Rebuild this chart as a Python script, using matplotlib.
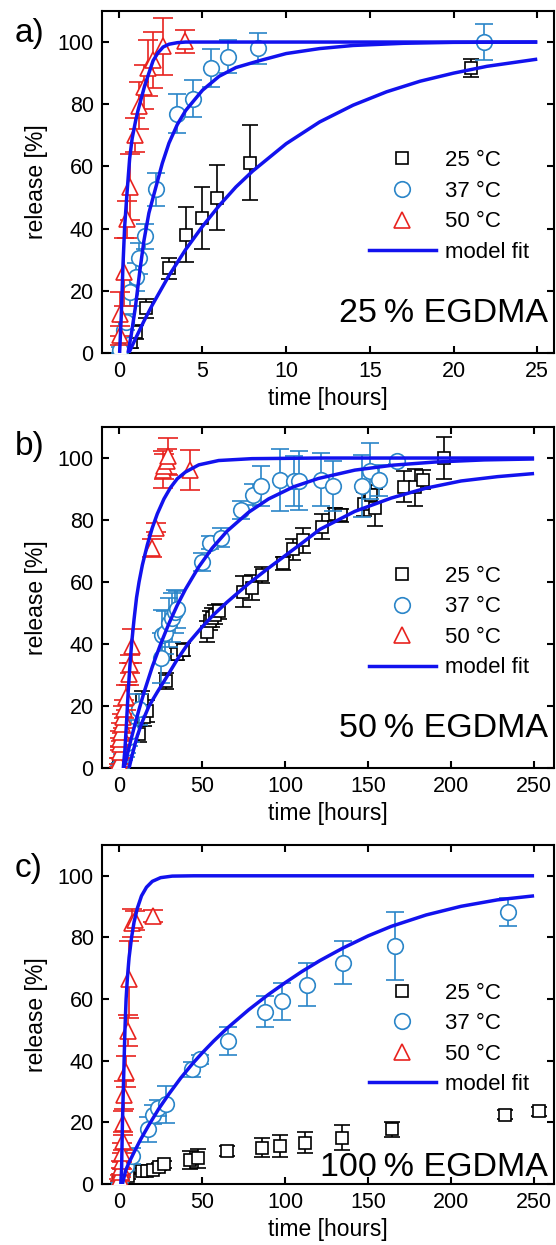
import matplotlib
matplotlib.use("Agg")
import matplotlib.pyplot as plt
from matplotlib.lines import Line2D

plt.rcParams['font.family'] = ['Liberation Sans', 'DejaVu Sans']

# === colours ===
c25 = 'black'
c37 = '#2a85c8'
c50 = '#e8231f'
cfit = '#1212ee'

# ==========================================
# a) 25 % EGDMA  (time in hours)
# ==========================================
a_t25 = [0.75, 1.0, 1.65, 3.0, 4.0, 4.95, 5.85, 7.85, 21.05]
a_y25 = [3.5, 6.8, 14.3, 27.2, 38.1, 43.3, 50.0, 61.2, 91.6]
a_e25 = [2.0, 2.3, 3.2, 3.5, 9.0, 10.0, 10.6, 12.0, 2.9]

a_t37 = [0.1, 0.3, 0.45, 0.65, 1.0, 1.2, 1.55, 2.2, 3.45, 4.45, 5.5, 6.5, 8.3, 21.8]
a_y37 = [1.0, 7.5, 10.0, 19.5, 24.3, 30.5, 37.5, 52.6, 77.0, 81.8, 91.7, 95.3, 98.0, 100.0]
a_e37 = [1.0, 2.5, 2.5, 4.5, 4.5, 5.0, 4.0, 5.3, 6.3, 6.0, 6.0, 5.3, 5.0, 5.7]

a_t50 = [0.05, 0.1, 0.34, 0.5, 0.69, 0.99, 1.23, 1.53, 1.73, 2.02, 2.62, 3.97]
a_y50 = [5.7, 12.5, 26.0, 43.0, 53.5, 70.0, 79.5, 85.5, 91.6, 94.3, 98.6, 100.2]
a_e50 = [3.0, 7.0, 11.0, 6.0, 10.6, 5.5, 7.5, 7.0, 9.0, 9.0, 9.2, 3.8]

a_fit25_t = [0.6, 1.0, 1.5, 2.0, 3.0, 4.0, 5.0, 6.0, 7.0, 8.0, 10.0, 12.0, 14.0, 16.0, 18.0, 20.0, 22.0, 25.0]
a_fit25_y = [0.0, 4.6, 10.2, 15.4, 24.9, 33.3, 40.7, 47.4, 53.4, 58.5, 67.3, 74.3, 79.7, 84.0, 87.4, 90.0, 92.2, 94.5]
a_fit37_t = [0.55, 0.75, 1.0, 1.25, 1.5, 1.8, 2.2, 2.6, 3.0, 3.5, 4.0, 5.0, 6.0, 7.0, 8.4, 10.0, 12.0, 14.0, 17.0, 20.0, 25.0]
a_fit37_y = [0.0, 6.0, 15.0, 26.0, 36.0, 45.0, 53.0, 61.0, 67.5, 73.5, 78.0, 84.5, 89.0, 91.8, 94.0, 96.3, 97.9, 98.9, 99.6, 99.9, 100.0]
a_fit50_t = [0.05, 0.15, 0.25, 0.35, 0.5, 0.65, 0.8, 1.0, 1.15, 1.35, 1.55, 1.8, 2.05, 2.35, 2.65, 3.0, 3.5, 4.0, 5.0, 25.0]
a_fit50_y = [0.0, 12.0, 28.0, 40.5, 52.0, 62.5, 69.0, 74.5, 78.0, 82.0, 86.0, 90.0, 94.0, 96.6, 98.4, 99.3, 99.8, 100.0, 100.0, 100.0]

# ==========================================
# b) 50 % EGDMA
# ==========================================
b_t25 = [0, 1, 2, 3, 12, 14, 15, 17, 28, 35, 38.5, 53, 54.5, 56, 58, 60, 74.5, 80, 86, 98.5,
         105, 110.5, 122, 130, 133.5, 147.5, 151.5, 154, 171.5, 178.5, 183, 196]
b_y25 = [0.5, 1.5, 2.5, 3.5, 11.0, 22.0, 16.5, 18.5, 28.0, 36.8, 38.2, 44.0, 47.5, 48.5, 49.5, 50.5,
         56.8, 58.2, 62.2, 66.0, 70.5, 73.5, 77.8, 81.8, 81.5, 85.2, 88.2, 84.0, 90.7, 90.6, 93.0, 100.0]
b_e25 = [1, 1, 1.5, 1.5, 2.5, 3, 3, 3.5, 2.5, 2, 2, 3.5, 3, 3, 3, 2.5, 5, 4, 2.5, 2, 3.5, 4, 4, 2, 2,
         4, 3, 6, 5, 6, 3, 6.7]

b_t37 = [0, 0.5, 1, 1.5, 2, 3, 4, 5, 6, 7, 11.8, 25, 25.6, 27.8, 29.9, 32, 33.5, 34.6, 49.8, 54.5,
         61.3, 73.7, 80.6, 85.5, 97.2, 105.3, 108.5, 121.8, 128.8, 146.4, 151.3, 156.4, 167.7]
b_y37 = [0, 0.5, 1.5, 2.5, 3.5, 5, 6.5, 8, 10, 12, 19, 35.4, 42.9, 43.7, 46.9, 48.5, 50.4, 51.2, 66.5,
         72.7, 74.3, 83.2, 88.2, 90.9, 92.8, 92.5, 92.7, 93, 90.9, 91.1, 95.7, 92.8, 99.1]
b_e37 = [1, 1, 1.5, 2, 2, 2.5, 3, 3, 3, 3.5, 5, 8, 8, 7, 8, 8, 7, 6, 3, 2, 3, 3, 3.5, 6.5, 10, 8, 9.5,
         8.5, 8, 10, 9, 5, 1]

b_t50 = [0, 0.1, 0.4, 0.5, 0.7, 1.1, 1.5, 2.1, 3.2, 4.3, 5.8, 6.4, 7.5, 19.9, 22.4, 26.5, 27.1, 28.8, 29.5, 42.7]
b_y50 = [0.3, 1.9, 5.1, 7.8, 9.4, 11.6, 14.3, 16.4, 19.0, 22.8, 30.3, 33.5, 39.4, 71.0, 77.5, 96.3,
         97.3, 99.0, 100.5, 96.2]
b_e50 = [1, 1.5, 2, 2, 2.5, 3, 3, 3.5, 3, 4, 3.5, 3, 5.5, 3, 1.5, 6, 4, 4, 6, 6.5]

b_fit25_t = [6, 8, 11, 14, 18, 23, 28, 35, 42, 50, 57, 65, 78, 90, 100, 110, 121, 142, 164, 185, 206, 228, 250]
b_fit25_y = [0, 4.5, 10.5, 15, 20, 24.5, 28.8, 35, 40.5, 45.5, 49.5, 53.5, 59.5, 64.5, 68.5, 72.5, 77.0,
             82.8, 87.1, 90.3, 92.6, 94, 95]
b_fit37_t = [3, 5, 7, 10, 12, 15, 20, 25, 30, 35, 40, 48, 56, 65, 78, 90, 105, 120, 142, 165, 190, 220, 250]
b_fit37_y = [0, 4.5, 8.9, 15.0, 18.9, 24.4, 32.7, 40.0, 46.6, 52.5, 57.7, 64.9, 70.9, 76.4, 82.5, 86.8,
             90.7, 93.4, 96.1, 97.7, 98.7, 99.4, 99.7]
b_fit50_t = [2.5, 3.5, 4.5, 5.5, 6.5, 7.5, 9.0, 10.5, 12, 14, 17, 20, 23, 27, 31, 35, 40, 48, 60, 80, 120, 250]
b_fit50_y = [0, 6, 15, 25, 33, 40, 48, 55, 60, 65.5, 72, 77.5, 82, 86.8, 90.5, 93.3, 95.5, 97.8, 99.2,
             99.8, 100, 100]

# ==========================================
# c) 100 % EGDMA
# ==========================================
c_t25 = [0, 2, 5.3, 13.9, 17, 20.3, 24, 27, 42.7, 47.6, 65.2, 86.1, 97.2, 111.8, 134, 164.5, 232.3, 253.2]
c_y25 = [0.5, 2.1, 2.7, 4.3, 4.3, 4.6, 5.6, 6.4, 7.8, 8.3, 10.7, 11.8, 12.3, 13.4, 15.0, 17.7, 22.5, 23.6]
c_e25 = [0.5, 1, 1, 1, 1, 1, 1.2, 1.2, 3, 3, 1.5, 3, 3.5, 3.5, 4, 2.5, 1.5, 1.5]

c_t37 = [0, 1, 2, 4.3, 7.5, 17.1, 20.3, 23.5, 28.4, 43.8, 48.7, 65.8, 87.6, 98.3, 113.2, 134.6, 166, 234]
c_y37 = [0, 2.1, 3.8, 5.9, 9.1, 17.7, 22.5, 24.7, 25.9, 37.2, 40.4, 46.4, 55.9, 59.3, 64.6, 71.8, 77.2, 88.2]
c_e37 = [0.5, 1, 1, 1.5, 2.5, 4, 3, 2.5, 6, 2.5, 1.5, 4.5, 5, 6, 7, 7, 11, 4.5]

c_t50 = [0, 0.5, 1, 1.2, 1.5, 1.7, 2.1, 2.5, 3.2, 4.3, 5.3, 5.8, 7.9, 9.3, 20.7]
c_y50 = [0.5, 2, 3.8, 5.4, 7.5, 10.2, 13.9, 19.8, 28.9, 36.4, 49.8, 66.5, 84.7, 85.5, 87]
c_e50 = [1, 1, 1.5, 2, 2.5, 3, 3, 4, 4.5, 5, 5, 12.5, 4.5, 3, 2]

c_fit37_t = [2, 4, 6, 9, 13, 18, 24, 30, 37, 44, 50, 57, 65, 78, 90, 100, 110, 121, 135, 150, 164, 185, 206, 228, 250]
c_fit37_y = [0, 4.5, 7, 10.3, 14.5, 19.2, 24.5, 29.2, 34.3, 38.9, 42.5, 46.4, 50.5, 56.5, 61.5, 65.3, 68.9,
             72.5, 76.6, 80.5, 83.6, 87.3, 90.1, 92.2, 93.5]
c_fit50_t = [1, 1.5, 2, 2.5, 3, 3.5, 4.2, 5, 6, 7.5, 9, 11, 13.5, 16.5, 20, 25, 32, 45, 250]
c_fit50_y = [0, 5, 20, 30, 40, 50, 60, 67, 73.5, 80, 85, 89.5, 93.5, 96.3, 98.2, 99.4, 99.9, 100, 100]

leg_labels = ['25 °C', '37 °C', '50 °C', 'model fit']

# marker styles per temperature
ms25 = dict(marker='s', ms=8.3, mfc='white', mec=c25, mew=1.2)
ms37 = dict(marker='o', ms=11.2, mfc='white', mec=c37, mew=1.2)
ms50 = dict(marker='^', ms=11.2, mfc='white', mec=c50, mew=1.2)
caps = [6, 6.5, 7]
ecols = [c25, c37, c50]


def panel(ax, series, fits, xlim, xticks, name):
    for (t, y, e), st, cs, ec, z in zip(series, [ms25, ms37, ms50], caps, ecols, [3, 4, 5]):
        ax.errorbar(t, y, yerr=e, ls='none', ecolor=ec, elinewidth=1.2, capsize=cs,
                    capthick=1.2, zorder=z, **st)
    for ft, fy in fits:
        ax.plot(ft, fy, color=cfit, lw=2.5, zorder=6, solid_capstyle='butt')
    ax.set_xlim(*xlim)
    ax.set_ylim(0, 110)
    ax.set_xticks(xticks)
    ax.set_yticks([0, 20, 40, 60, 80, 100])
    ax.tick_params(direction='in', top=True, right=True, length=5, width=1.5,
                   labelsize=15.5, pad=6)
    for s in ax.spines.values():
        s.set_linewidth(1.5)
    ax.set_xlabel('time [hours]', fontsize=16.5)
    ax.set_ylabel('release [%]', fontsize=16.5)
    ax.xaxis.set_label_coords(0.5, -0.10)
    ax.yaxis.set_label_coords(-0.12, 0.5)
    ax.text(0.987, 0.09, name, transform=ax.transAxes, ha='right', va='baseline',
            fontsize=24.5, zorder=10)
    handles = [Line2D([], [], ls='none', **ms25),
               Line2D([], [], ls='none', **ms37),
               Line2D([], [], ls='none', **ms50),
               Line2D([], [], color=cfit, lw=2.5)]
    ax.legend(handles, leg_labels, loc='center left', bbox_to_anchor=(0.591, 0.428),
              frameon=False, borderpad=0, borderaxespad=0, handlelength=3.0,
              handletextpad=0.4, labelspacing=0.43, fontsize=16)


fig = plt.figure(figsize=(5.56, 12.45), dpi=100)
ax_a = fig.add_axes([0.1835, 0.7165, 0.8129, 0.2747])
ax_b = fig.add_axes([0.1835, 0.3831, 0.8129, 0.2739])
ax_c = fig.add_axes([0.1835, 0.0490, 0.8129, 0.2723])

panel(ax_a, [(a_t25, a_y25, a_e25), (a_t37, a_y37, a_e37), (a_t50, a_y50, a_e50)],
      [(a_fit25_t, a_fit25_y), (a_fit37_t, a_fit37_y), (a_fit50_t, a_fit50_y)],
      (-1, 26), [0, 5, 10, 15, 20, 25], '25\u2009% EGDMA')
panel(ax_b, [(b_t25, b_y25, b_e25), (b_t37, b_y37, b_e37), (b_t50, b_y50, b_e50)],
      [(b_fit25_t, b_fit25_y), (b_fit37_t, b_fit37_y), (b_fit50_t, b_fit50_y)],
      (-10.3, 262), [0, 50, 100, 150, 200, 250], '50\u2009% EGDMA')
panel(ax_c, [(c_t25, c_y25, c_e25), (c_t37, c_y37, c_e37), (c_t50, c_y50, c_e50)],
      [(c_fit37_t, c_fit37_y), (c_fit50_t, c_fit50_y)],
      (-10.3, 262), [0, 50, 100, 150, 200, 250], '100\u2009% EGDMA')
ax_c.texts[0].set_position((0.987, 0.024))

# panel tags
fig.text(15 / 556, 1 - 42 / 1245, 'a)', fontsize=24, va='baseline')
fig.text(15 / 556, 1 - 455 / 1245, 'b)', fontsize=24, va='baseline')
fig.text(15 / 556, 1 - 877 / 1245, 'c)', fontsize=24, va='baseline')

fig.savefig('out.png', dpi=100)
